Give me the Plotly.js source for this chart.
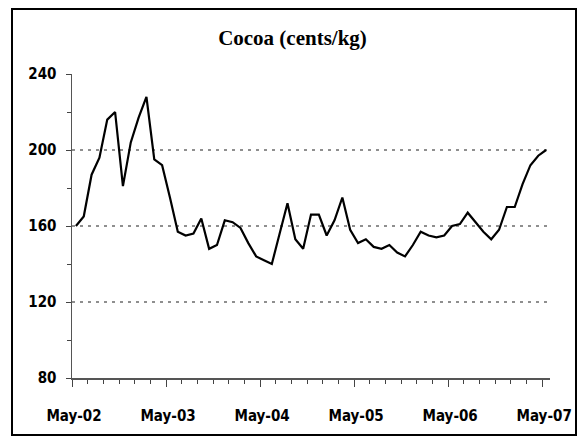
<!DOCTYPE html>
<html>
<head>
<meta charset="utf-8">
<script src="https://cdn.plot.ly/plotly-3.0.1.min.js"></script>
<style>
  html, body { margin: 0; padding: 0; background: #fff; }
  #chart { width: 585px; height: 440px; }
</style>
</head>
<body>
<div id="chart"></div>
<script>
// Monthly cocoa price, May-02 .. May-07 (cents/kg)
const months = [
  "May-02","Jun-02","Jul-02","Aug-02","Sep-02","Oct-02","Nov-02","Dec-02","Jan-03","Feb-03","Mar-03","Apr-03",
  "May-03","Jun-03","Jul-03","Aug-03","Sep-03","Oct-03","Nov-03","Dec-03","Jan-04","Feb-04","Mar-04","Apr-04",
  "May-04","Jun-04","Jul-04","Aug-04","Sep-04","Oct-04","Nov-04","Dec-04","Jan-05","Feb-05","Mar-05","Apr-05",
  "May-05","Jun-05","Jul-05","Aug-05","Sep-05","Oct-05","Nov-05","Dec-05","Jan-06","Feb-06","Mar-06","Apr-06",
  "May-06","Jun-06","Jul-06","Aug-06","Sep-06","Oct-06","Nov-06","Dec-06","Jan-07","Feb-07","Mar-07","Apr-07",
  "May-07"
];
const cocoa = [
  160,165,187,196,216,220,181,204,217,228,195,192,
  175,157,155,156,164,148,150,163,162,159,151,144,
  142,140,156,172,153,148,166,166,155,163,175,158,
  151,153,149,148,150,146,144,150,157,155,154,155,
  160,161,167,162,157,153,158,170,170,182,192,197,
  200
];
const yTickVals = [80, 120, 160, 200, 240];
const xLabelMonths = ["May-02","May-03","May-04","May-05","May-06","May-07"];

const xIdx = months.map((m, i) => i);
// label ticks sit on the category boundary just before each labelled month
const xTickVals = xLabelMonths.map(m => months.indexOf(m) - 0.5);

const labelFont = { family: "'Liberation Sans Narrow', 'Arial Narrow', 'DejaVu Sans Condensed', 'Liberation Sans', sans-serif", size: 15, color: "#000", weight: "bold" };

const trace = {
  x: xIdx,
  y: cocoa,
  type: "scatter",
  mode: "lines",
  line: { color: "#000", width: 2.2 },
  hoverinfo: "skip"
};

const layout = {
  width: 585,
  height: 440,
  margin: { l: 72, r: 35, t: 74, b: 62 },
  paper_bgcolor: "#fff",
  plot_bgcolor: "#fff",
  showlegend: false,
  title: {
    text: "Cocoa (cents/kg)",
    font: { family: "'Liberation Serif', 'Times New Roman', serif", size: 21, color: "#000", weight: "bold" },
    x: 0.5, xref: "container", xanchor: "center",
    y: 1 - 38 / 440, yref: "container", yanchor: "middle"
  },
  xaxis: {
    type: "linear",
    range: [-0.5, 60.5],
    tickmode: "array",
    tickvals: xTickVals,
    ticktext: xLabelMonths,
    ticks: "outside",
    ticklen: 7,
    tickwidth: 1,
    tickcolor: "#444",
    ticklabelshift: 2,
    ticklabelstandoff: 16,
    tickfont: labelFont,
    showgrid: false,
    zeroline: false,
    showline: true,
    linecolor: "#555",
    linewidth: 1.5,
    minor: { tick0: -0.5, dtick: 2, ticks: "outside", ticklen: 4, tickwidth: 1, tickcolor: "#444", showgrid: false },
    fixedrange: true
  },
  yaxis: {
    range: [80, 240],
    tickmode: "array",
    tickvals: yTickVals,
    ticktext: yTickVals.map(String),
    ticks: "outside",
    ticklen: 5,
    tickwidth: 1,
    tickcolor: "#444",
    ticklabelstandoff: 6,
    tickfont: labelFont,
    showgrid: true,
    gridcolor: "#8f8f8f",
    gridwidth: 1.5,
    griddash: "3px,5px",
    zeroline: false,
    showline: true,
    linecolor: "#555",
    linewidth: 1.5,
    minor: { tick0: 80, dtick: 20, ticks: "outside", ticklen: 4, tickwidth: 1, tickcolor: "#444", showgrid: false },
    fixedrange: true
  },
  shapes: [{
    type: "rect",
    xref: "paper", yref: "paper",
    x0: (12 - 72) / 478, x1: (576 - 72) / 478,
    y0: (440 - 62 - 435) / 304,
    y1: (440 - 62 - 9) / 304,
    line: { color: "#000", width: 2 },
    fillcolor: "rgba(0,0,0,0)",
    layer: "below"
  }]
};

Plotly.newPlot("chart", [trace], layout, { displayModeBar: false, staticPlot: true });
</script>
</body>
</html>
